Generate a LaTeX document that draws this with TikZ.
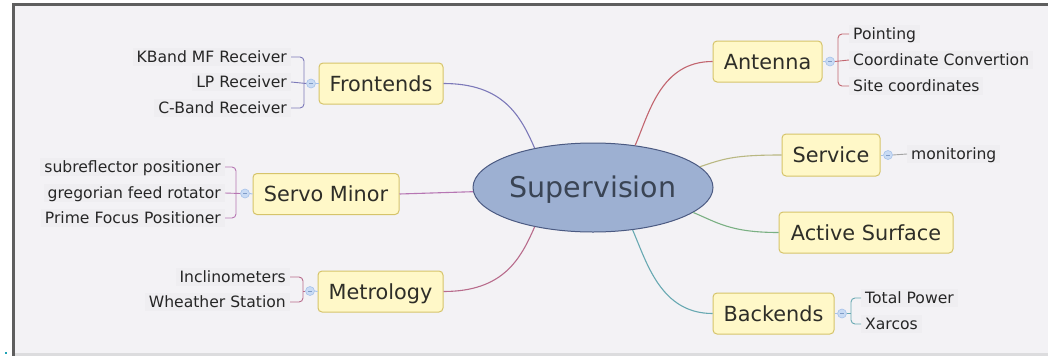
\documentclass[tikz,border=0pt]{standalone}
\usepackage{fontspec}
\setmainfont{DejaVu Sans}
\usetikzlibrary{shapes.geometric}

\definecolor{bg}{HTML}{F3F2F5}
\definecolor{leafbg}{HTML}{EFEEF1}
\definecolor{framegray}{HTML}{5E5E5E}
\definecolor{bottomline}{HTML}{DCDCDE}
\definecolor{dotcol}{HTML}{1FA3B5}
\definecolor{boxfill}{HTML}{FFF8C8}
\definecolor{boxline}{HTML}{D6C46A}
\definecolor{boxtext}{HTML}{2E2E28}
\definecolor{leaftext}{HTML}{262626}
\definecolor{supfill}{HTML}{9DB0D2}
\definecolor{supline}{HTML}{4B5A82}
\definecolor{suptext}{HTML}{3A4454}
\definecolor{togfill}{HTML}{C9DBF4}
\definecolor{togline}{HTML}{A6C2EA}
\definecolor{togminus}{HTML}{7F9CC8}
\definecolor{fecol}{HTML}{7C79B9}
\definecolor{smcol}{HTML}{B676B3}
\definecolor{mecol}{HTML}{B86C8C}
\definecolor{ancol}{HTML}{C2656F}
\definecolor{secol}{HTML}{B9B882}
\definecolor{ascol}{HTML}{7AB083}
\definecolor{becol}{HTML}{68A9B2}
\definecolor{leafline}{HTML}{A3A3A3}

\begin{document}
\begin{tikzpicture}[x=1pt,y=-1pt,
  topic/.style={draw=boxline, fill=boxfill, rounded corners=4pt, line width=1pt,
    minimum height=41pt, inner sep=0pt, font=\fontsize{20.8}{24}\selectfont,
    text=boxtext, text height=15.2pt, text depth=0pt},
  leaf/.style={inner xsep=4pt, inner ysep=3pt, font=\fontsize{15.6}{18}\selectfont,
    text=leaftext, text height=11.4pt, text depth=0pt, fill=leafbg},
  lleaf/.style={leaf, anchor=east},
  rleaf/.style={leaf, anchor=west},
  toggle/.style={circle, draw=togline, fill=togfill, minimum size=9pt, inner sep=0pt,
    line width=0.6pt,
    path picture={\draw[togminus, line width=0.5pt]
      ([xshift=-2pt]path picture bounding box.center) --
      ([xshift=2pt]path picture bounding box.center);}},
  branch/.style={line width=1.1pt},
  twig/.style={line width=0.9pt, rounded corners=4pt},
  ]

% canvas and frame
\useasboundingbox (0,0) rectangle (1048,356);
\fill[white] (0,0) rectangle (1048,356);
\fill[bg] (15,6) rectangle (1048,353);
\fill[framegray] (12,3) rectangle (15,356);
\fill[framegray] (12,3) rectangle (1048,6);
\fill[bottomline] (15,353) rectangle (1048,356);
\fill[dotcol] (5,352) rectangle (7,354);

% central topic
\node[ellipse, draw=supline, fill=supfill, line width=1pt, minimum width=240pt,
  minimum height=89pt, inner sep=0pt, font=\fontsize{28.5}{32}\selectfont,
  text=suptext, text height=20.8pt, text depth=0pt] (sup) at (593,187.5) {Supervision};

% main topics
\node[topic, minimum width=124pt] (fe) at (381,83.5) {Frontends};
\node[topic, minimum width=146pt] (sm) at (326,194) {Servo Minor};
\node[topic, minimum width=125pt] (me) at (380.5,291.5) {Metrology};
\node[topic, minimum width=109pt] (an) at (767.5,61.5) {Antenna};
\node[topic, minimum width=98pt, minimum height=42pt] (se) at (831,155) {Service};
\node[topic, minimum width=174pt] (as) at (866,232.5) {Active Surface};
\node[topic, minimum width=121pt] (be) at (773.5,313.5) {Backends};

% branches from the centre
\draw[branch, fecol] (fe.east) .. controls +(60,0) and +(-14,-32) .. (sup.146);
\draw[branch, smcol] (sm.east) -- (sup.182);
\draw[branch, mecol] (me.east) .. controls +(60,0) and +(-14,32) .. (sup.214);
\draw[branch, ancol] (an.west) .. controls +(-52,0) and +(14,-32) .. (sup.45);
\draw[branch, secol] (se.west) .. controls +(-48,0) and +(24,-8) .. (sup.11);
\draw[branch, ascol] (as.west) .. controls +(-48,0) and +(24,10) .. (sup.346);
\draw[branch, becol] (be.west) .. controls +(-52,0) and +(14,32) .. (sup.313);

% leaves
\node[lleaf] (fe1) at (291,57) {KBand MF Receiver};
\node[lleaf] (fe2) at (291,82) {LP Receiver};
\node[lleaf] (fe3) at (291,108) {C-Band Receiver};
\node[lleaf] (sm1) at (225,167) {subreflector positioner};
\node[lleaf] (sm2) at (225,193) {gregorian feed rotator};
\node[lleaf] (sm3) at (225,218) {Prime Focus Positioner};
\node[lleaf] (me1) at (290,277) {Inclinometers};
\node[lleaf] (me2) at (290,302) {Wheather Station};
\node[rleaf] (an1) at (849,34) {Pointing};
\node[rleaf] (an2) at (849,60) {Coordinate Convertion};
\node[rleaf] (an3) at (849,86) {Site coordinates};
\node[rleaf] (se1) at (907,154) {monitoring};
\node[rleaf] (be1) at (861,298) {Total Power};
\node[rleaf] (be2) at (861,324) {Xarcos};

% collapse toggles
\node[toggle] (fet) at (311,83.5) {};
\node[toggle] (smt) at (245,193.5) {};
\node[toggle] (met) at (310,291) {};
\node[toggle] (ant) at (830,61.5) {};
\node[toggle] (set) at (888,155) {};
\node[toggle] (bet) at (842,313.5) {};

% bracket spines
\coordinate (feb) at (304,83.5);
\coordinate (smb) at (236,193.5);
\coordinate (meb) at (303,291);
\coordinate (anb) at (838,61.5);
\coordinate (beb) at (851,313.5);

% Frontends group
\draw[twig, fecol] (fe1.east) -- (fe1.east -| feb) -- (fe3.east -| feb) -- (fe3.east);
\draw[twig, fecol] (fe2.east) -- (fet.west);
\draw[twig, togline] (fet.east) -- (fe.west);

% Servo Minor group
\draw[twig, smcol] (sm1.east) -- (sm1.east -| smb) -- (sm3.east -| smb) -- (sm3.east);
\draw[twig, smcol] (sm2.east) -- (smt.west);
\draw[twig, togline] (smt.east) -- (sm.west);

% Metrology group
\draw[twig, mecol] (me1.east) -- (me1.east -| meb) -- (me2.east -| meb) -- (me2.east);
\draw[twig, mecol] (meb) -- (met.west);
\draw[twig, togline] (met.east) -- (me.west);

% Antenna group
\draw[twig, ancol] (an1.west) -- (an1.west -| anb) -- (an3.west -| anb) -- (an3.west);
\draw[twig, ancol] (ant.east) -- (an2.west);
\draw[twig, togline] (an.east) -- (ant.west);

% Service group
\draw[twig, leafline] (set.east) -- (se1.west);
\draw[twig, togline] (se.east) -- (set.west);

% Backends group
\draw[twig, becol] (be1.west) -- (be1.west -| beb) -- (be2.west -| beb) -- (be2.west);
\draw[twig, becol] (bet.east) -- (beb);
\draw[twig, togline] (be.east) -- (bet.west);

\end{tikzpicture}
\end{document}
